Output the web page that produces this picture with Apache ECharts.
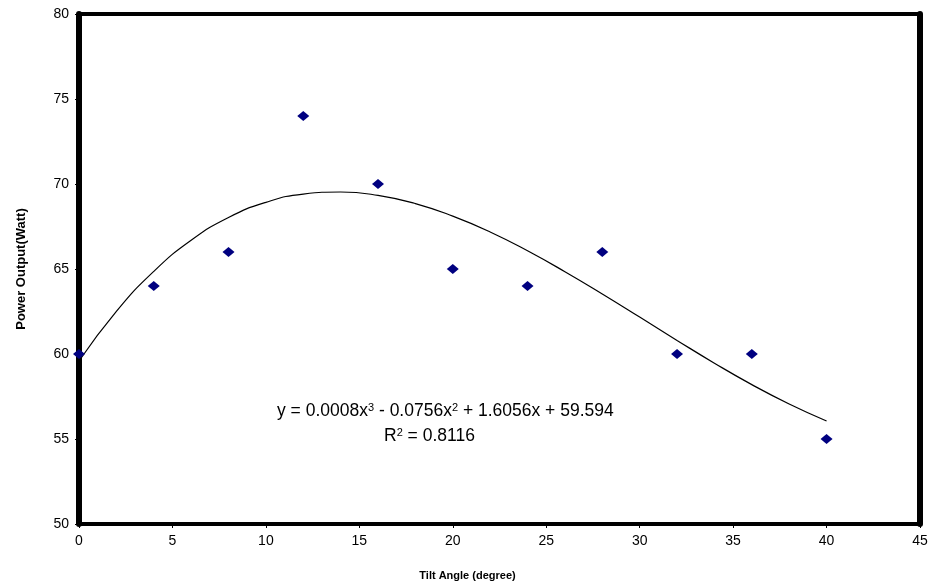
<!DOCTYPE html>
<html>
<head>
<meta charset="utf-8">
<script src="https://cdn.jsdelivr.net/npm/echarts@6/dist/echarts.min.js"></script>
<style>html,body{margin:0;padding:0;background:#fff;}#c{width:932px;height:588px;}</style>
</head>
<body>
<div id="c"></div>
<script>
// Measured points: tilt angle (degree) vs power output (Watt)
const tiltAngles = [0, 4, 8, 12, 16, 20, 24, 28, 32, 36, 40];
const powerOutput = [60, 64, 66, 74, 70, 65, 64, 66, 60, 60, 55];
// Polynomial trendline as drawn (read at every 2 degrees)
const trendX = [0, 2, 4, 6, 8, 10, 12, 14, 16, 18, 20, 22, 24, 26, 28, 30, 32, 34, 36, 38, 40];
const trendY = [59.59, 62.51, 64.86, 66.69, 68.03, 68.92, 69.41, 69.53, 69.33, 68.85, 68.11,
                67.18, 66.07, 64.84, 63.53, 62.17, 60.80, 59.46, 58.20, 57.06, 56.06];
const xTicks = {min: 0, max: 45, interval: 5};
const yTicks = {min: 50, max: 80, interval: 5};
const equationText = 'y = 0.0008x{s|3} - 0.0756x{s|2} + 1.6056x + 59.594';
const r2Text = 'R{s|2} = 0.8116';

const chart = echarts.init(document.getElementById('c'));
const F = '"Liberation Sans", Arial, sans-serif';
chart.setOption({
  animation: false,
  backgroundColor: '#ffffff',
  grid: {left: 79, top: 14, right: 12, bottom: 64, show: true, borderColor: '#000', borderWidth: 4},
  xAxis: {
    type: 'value', min: xTicks.min, max: xTicks.max, interval: xTicks.interval,
    name: 'Tilt Angle (degree)', nameLocation: 'middle', nameGap: 46,
    nameTextStyle: {fontFamily: F, fontWeight: 'bold', fontSize: 11, color: '#000', padding: [0, 64, 0, 0]},
    axisLine: {show: true, onZero: false, lineStyle: {color: '#000', width: 4}},
    axisTick: {show: true, length: 4, lineStyle: {color: '#000', width: 1}},
    axisLabel: {fontFamily: F, fontSize: 14, color: '#000', margin: 10},
    splitLine: {show: false}
  },
  yAxis: [{
    type: 'value', min: yTicks.min, max: yTicks.max, interval: yTicks.interval,
    name: 'Power Output(Watt)', nameLocation: 'middle', nameGap: 51,
    nameTextStyle: {fontFamily: F, fontWeight: 'bold', fontSize: 13, color: '#000'},
    axisLine: {show: true, onZero: false, lineStyle: {color: '#000', width: 6}},
    axisTick: {show: true, length: 4, lineStyle: {color: '#000', width: 1}},
    axisLabel: {fontFamily: F, fontSize: 14, color: '#000', margin: 10},
    splitLine: {show: false}
  }, {
    type: 'value', min: yTicks.min, max: yTicks.max, interval: yTicks.interval, position: 'right',
    axisLine: {show: true, onZero: false, lineStyle: {color: '#000', width: 6}},
    axisTick: {show: false}, axisLabel: {show: false}, splitLine: {show: false}
  }],
  series: [{
    type: 'line', yAxisIndex: 0,
    data: trendX.map((x, i) => [x, trendY[i]]),
    smooth: true, showSymbol: false, symbol: 'none',
    lineStyle: {color: '#000', width: 1.2}, z: 2
  }, {
    type: 'scatter', yAxisIndex: 0,
    data: tiltAngles.map((x, i) => [x, powerOutput[i]]),
    symbol: 'diamond', symbolSize: [12, 10],
    itemStyle: {color: '#000080', opacity: 1}, z: 3
  }],
  graphic: [{
    type: 'text', left: 277, top: 402,
    style: {
      text: equationText, fontFamily: F, fontSize: 17.5, fill: '#000',
      rich: {s: {fontSize: 11, fontFamily: F, verticalAlign: 'top', padding: [0, 0, 8, 0], fill: '#000'}}
    }
  }, {
    type: 'text', left: 384, top: 427,
    style: {
      text: r2Text, fontFamily: F, fontSize: 17.5, fill: '#000',
      rich: {s: {fontSize: 11, fontFamily: F, verticalAlign: 'top', padding: [0, 0, 8, 0], fill: '#000'}}
    }
  }]
});
</script>
</body>
</html>
